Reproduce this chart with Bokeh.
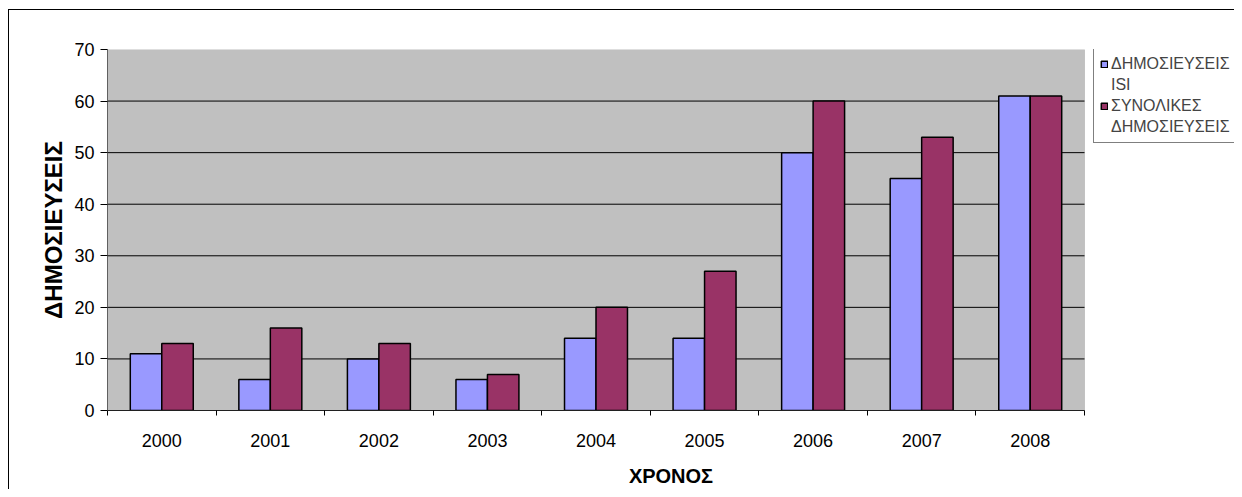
import numpy as np
from bokeh.plotting import figure
from bokeh.models import (ColumnDataSource, Range1d, FixedTicker, Legend, LegendItem, BoxAnnotation)
from bokeh.transform import dodge
from bokeh.embed import file_html
from bokeh.resources import INLINE

years = ["2000", "2001", "2002", "2003", "2004", "2005", "2006", "2007", "2008"]
isi = [11, 6, 10, 6, 14, 14, 50, 45, 61]
total = [13, 16, 13, 7, 20, 27, 60, 53, 61]
y_ticks = [0, 10, 20, 30, 40, 50, 60, 70]
label_isi = ["ΔΗΜΟΣΙΕΥΣΕΙΣ", "ISI"]
label_total = ["ΣΥΝΟΛΙΚΕΣ", "ΔΗΜΟΣΙΕΥΣΕΙΣ"]

n = len(years)
centers = np.arange(n) + 0.5
source = ColumnDataSource(dict(x=centers, isi=isi, total=total))
grid_src = ColumnDataSource(dict(y=y_ticks[1:-1], x0=[0] * (len(y_ticks) - 2),
                                 x1=[n] * (len(y_ticks) - 2)))

FONT = "Liberation Sans"

W, H = 1234, 489
PLOT_L, PLOT_R, PLOT_T, PLOT_B = 107, 1084, 49, 410   # plot-area box in pixels
# the frame runs to the right edge so the legend (right of the plot area) is not clipped
x_end = n * (W - PLOT_L) / (PLOT_R - PLOT_L)

p = figure(width=W, height=H, x_range=Range1d(0, x_end), y_range=Range1d(0, y_ticks[-1]),
           output_backend="svg", toolbar_location=None,
           min_border_left=PLOT_L, min_border_right=0, min_border_top=PLOT_T,
           min_border_bottom=H - PLOT_B)
# outer chart border (left and top edges; right/bottom run off the picture)
p.border_fill_alpha = 0
p.background_fill_alpha = 0
p.styles = {"background": "linear-gradient(#000,#000) 8px 9px / 1px 100% no-repeat, "
                          "linear-gradient(#000,#000) 8px 9px / 100% 1px no-repeat, #fff"}
p.outline_line_color = None

# grey plot area
p.add_layout(BoxAnnotation(left=0, right=n, bottom=0, top=y_ticks[-1],
                           fill_color="#C0C0C0", fill_alpha=1,
                           line_color="#808080", line_width=1, level="underlay"))
# horizontal gridlines across the plot area only
p.segment(x0="x0", x1="x1", y0="y", y1="y", source=grid_src, line_color="black", line_width=1)

bw = 0.29
r1 = p.vbar(x=dodge("x", -bw / 2), top="isi", width=bw, source=source,
            fill_color="#9999FF", line_color="black", line_width=1.5)
r2 = p.vbar(x=dodge("x", bw / 2), top="total", width=bw, source=source,
            fill_color="#993366", line_color="black", line_width=1.5)

# x axis: labels at category centres, tick marks at category boundaries
xa = p.xaxis[0]
xa.bounds = (0, n)
xa.ticker = FixedTicker(ticks=list(centers), minor_ticks=list(range(n + 1)))
xa.major_label_overrides = {float(c): y for c, y in zip(centers, years)}
xa.major_tick_line_color = None
xa.minor_tick_line_color = "black"
xa.minor_tick_out = 5
xa.minor_tick_in = 0
xa.axis_line_color = "#202020"
xa.major_label_text_font = FONT
xa.major_label_text_font_size = "18px"
xa.major_label_text_color = "black"
xa.major_label_standoff = 17
xa.axis_label = "ΧΡΟΝΟΣ"
xa.axis_label_text_font = FONT
xa.axis_label_text_font_style = "bold"
xa.axis_label_text_font_size = "20px"
xa.axis_label_text_color = "black"
xa.axis_label_standoff = 15
p.xgrid.grid_line_color = None
p.ygrid.grid_line_color = None

ya = p.yaxis[0]
ya.ticker = FixedTicker(ticks=y_ticks, minor_ticks=[])
ya.major_tick_out = 7
ya.major_tick_in = 0
ya.major_tick_line_color = "black"
ya.axis_line_color = "#606060"
ya.major_label_text_font = FONT
ya.major_label_text_font_size = "18px"
ya.major_label_text_color = "black"
ya.major_label_standoff = 6
ya.axis_label = "ΔΗΜΟΣΙΕΥΣΕΙΣ"
ya.axis_label_text_font = FONT
ya.axis_label_text_font_style = "bold"
ya.axis_label_text_font_size = "24px"
ya.axis_label_text_color = "black"
ya.axis_label_standoff = 4

legend = Legend(items=[LegendItem(label=label_isi[0], renderers=[r1]),
                       LegendItem(label=label_isi[1], renderers=[]),
                       LegendItem(label=label_total[0], renderers=[r2]),
                       LegendItem(label=label_total[1], renderers=[])],
                location=(1093 - PLOT_L, PLOT_B - PLOT_T - 94))
legend.border_line_color = "black"
legend.border_line_width = 1
legend.background_fill_color = "white"
legend.background_fill_alpha = 1
legend.glyph_width = 8
legend.glyph_height = 8
legend.label_standoff = 3
legend.padding = 6
legend.margin = 0
legend.spacing = 3
legend.label_text_font = FONT
legend.label_text_font_size = "16px"
legend.label_height = 8
p.add_layout(legend)

open("out.html", "w").write(file_html(p, INLINE))
